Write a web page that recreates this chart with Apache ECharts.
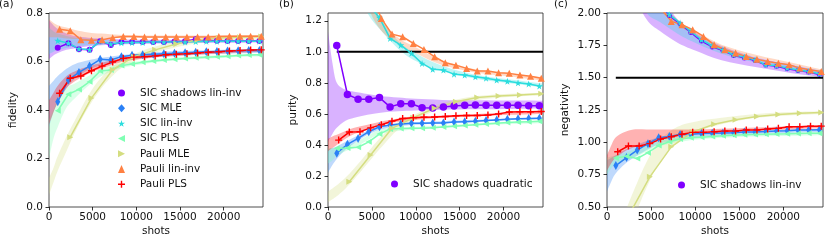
<!DOCTYPE html>
<html><head><meta charset="utf-8">
<script src="https://cdn.jsdelivr.net/npm/echarts@6/dist/echarts.min.js"></script>
<style>html,body{margin:0;padding:0;background:#fff}#c{width:830px;height:249px}</style>
</head><body><div id="c"></div>
<script>
// ---------- x values ----------
const sicShots = [1000, 2215, 3430, 4645, 5860, 7075, 8290, 9505, 10720, 11935, 13150, 14365, 15580, 16795, 18010, 19225, 20440, 21655, 22870, 24085];
const pauliShots = [1215, 2430, 3645, 4860, 6075, 7290, 8505, 9720, 10935, 12150, 13365, 14580, 15795, 17010, 18225, 19440, 20655, 21870, 23085, 24300];
const pauliMleShots = [2430, 4860, 7290, 9720, 12150, 14580, 17010, 19440, 21870, 24300];
const bandShots = [0, 500, 1000, 2000, 3000, 4500, 6000, 8000, 10000, 13000, 17000, 21000, 24500];
const xTicks = [0, 5000, 10000, 15000, 20000];

// ---------- (a) fidelity ----------
const fidSicShadows = [0.657, 0.675, 0.651, 0.648, 0.684, 0.668, 0.680, 0.680, 0.680, 0.680, 0.680, 0.682, 0.684, 0.692, 0.688, 0.686, 0.685, 0.685, 0.685, 0.685];
const fidSicMle = [0.434, 0.524, 0.555, 0.581, 0.609, 0.606, 0.620, 0.626, 0.628, 0.630, 0.632, 0.634, 0.636, 0.638, 0.640, 0.641, 0.643, 0.644, 0.645, 0.645];
const fidSicLinInv = [0.686, 0.676, 0.652, 0.649, 0.683, 0.672, 0.677, 0.678, 0.678, 0.680, 0.680, 0.680, 0.680, 0.682, 0.683, 0.683, 0.684, 0.684, 0.684, 0.684];
const fidSicPls = [0.397, 0.465, 0.485, 0.517, 0.561, 0.565, 0.583, 0.590, 0.597, 0.602, 0.606, 0.609, 0.612, 0.615, 0.618, 0.620, 0.622, 0.625, 0.627, 0.628];
const fidPauliMle = [0.288, 0.449, 0.566, 0.620, 0.648, 0.672, 0.690, 0.697, 0.700, 0.703];
const fidPauliLinInv = [0.733, 0.727, 0.690, 0.688, 0.690, 0.698, 0.703, 0.703, 0.701, 0.701, 0.701, 0.701, 0.701, 0.701, 0.701, 0.703, 0.704, 0.704, 0.704, 0.704];
const fidPauliPls = [0.469, 0.531, 0.540, 0.562, 0.581, 0.598, 0.613, 0.618, 0.620, 0.623, 0.628, 0.630, 0.632, 0.635, 0.638, 0.640, 0.643, 0.645, 0.647, 0.648];
// bands (lower / upper) on bandShots
const fidBandSicShadowsLo = [0.61, 0.625, 0.635, 0.648, 0.655, 0.663, 0.667, 0.670, 0.672, 0.674, 0.676, 0.677, 0.678];
const fidBandSicShadowsHi = [0.77, 0.75, 0.735, 0.715, 0.705, 0.698, 0.695, 0.692, 0.690, 0.690, 0.690, 0.690, 0.690];
const fidBandSicMleLo = [0.33, 0.39, 0.43, 0.49, 0.53, 0.565, 0.585, 0.600, 0.610, 0.620, 0.628, 0.633, 0.636];
const fidBandSicMleHi = [0.50, 0.52, 0.54, 0.57, 0.59, 0.605, 0.615, 0.625, 0.632, 0.640, 0.645, 0.650, 0.652];
const fidBandSicLinInvLo = [0.63, 0.64, 0.648, 0.656, 0.662, 0.667, 0.670, 0.672, 0.674, 0.676, 0.678, 0.679, 0.680];
const fidBandSicLinInvHi = [0.74, 0.725, 0.715, 0.705, 0.698, 0.693, 0.690, 0.688, 0.687, 0.687, 0.687, 0.688, 0.688];
const fidBandSicPlsLo = [0.20, 0.28, 0.33, 0.41, 0.45, 0.50, 0.54, 0.57, 0.585, 0.600, 0.610, 0.618, 0.622];
const fidBandSicPlsHi = [0.36, 0.40, 0.44, 0.49, 0.51, 0.54, 0.57, 0.59, 0.600, 0.612, 0.622, 0.628, 0.632];
const fidBandPauliMleLo = [0.05, 0.10, 0.15, 0.23, 0.31, 0.41, 0.49, 0.565, 0.605, 0.645, 0.675, 0.690, 0.695];
const fidBandPauliMleHi = [0.12, 0.16, 0.21, 0.29, 0.36, 0.46, 0.535, 0.600, 0.635, 0.670, 0.695, 0.705, 0.710];
const fidBandPauliLinInvLo = [0.70, 0.70, 0.70, 0.695, 0.693, 0.693, 0.695, 0.697, 0.698, 0.698, 0.699, 0.700, 0.700];
const fidBandPauliLinInvHi = [0.775, 0.76, 0.75, 0.74, 0.73, 0.72, 0.715, 0.710, 0.708, 0.707, 0.707, 0.708, 0.708];
const fidBandPauliPlsLo = [0.34, 0.39, 0.43, 0.49, 0.52, 0.55, 0.57, 0.595, 0.608, 0.620, 0.628, 0.635, 0.640];
const fidBandPauliPlsHi = [0.44, 0.47, 0.50, 0.54, 0.56, 0.58, 0.595, 0.610, 0.622, 0.632, 0.640, 0.647, 0.652];

// ---------- (b) purity ----------
const purSicShadowsQuad = [1.04, 0.725, 0.695, 0.695, 0.705, 0.645, 0.665, 0.665, 0.640, 0.638, 0.645, 0.650, 0.655, 0.658, 0.656, 0.655, 0.655, 0.655, 0.653, 0.652];
const purSicMle = [0.346, 0.404, 0.442, 0.485, 0.517, 0.528, 0.535, 0.539, 0.540, 0.541, 0.542, 0.548, 0.550, 0.552, 0.557, 0.561, 0.565, 0.568, 0.570, 0.572];
const purSicLinInv = [2.5, 1.75, 1.45, 1.30, 1.22, 1.086, 1.043, 0.990, 0.925, 0.887, 0.882, 0.856, 0.850, 0.839, 0.830, 0.818, 0.810, 0.800, 0.793, 0.779];
const purSicPls = [0.378, 0.380, 0.385, 0.420, 0.470, 0.503, 0.505, 0.507, 0.507, 0.510, 0.515, 0.520, 0.525, 0.530, 0.535, 0.540, 0.545, 0.548, 0.550, 0.552];
const purPauliMle = [0.163, 0.335, 0.507, 0.575, 0.637, 0.678, 0.706, 0.716, 0.722, 0.730];
const purPauliLinInv = [2.6, 1.85, 1.55, 1.39, 1.215, 1.114, 1.097, 1.054, 1.015, 0.968, 0.929, 0.914, 0.893, 0.876, 0.876, 0.865, 0.861, 0.850, 0.843, 0.829];
const purPauliPls = [0.431, 0.483, 0.485, 0.510, 0.530, 0.553, 0.570, 0.575, 0.578, 0.580, 0.583, 0.588, 0.590, 0.590, 0.592, 0.600, 0.612, 0.614, 0.614, 0.615];
const purTrueShots = [1000, 24500];
const purTrue = [1.0, 1.0];
const purBandSicShadowsLo = [0.42, 0.47, 0.51, 0.555, 0.575, 0.595, 0.608, 0.617, 0.622, 0.627, 0.630, 0.632, 0.634];
const purBandSicShadowsHi = [1.13, 0.93, 0.80, 0.755, 0.742, 0.728, 0.715, 0.705, 0.697, 0.690, 0.688, 0.686, 0.685];
const purBandSicMleLo = [0.22, 0.27, 0.31, 0.37, 0.41, 0.465, 0.50, 0.52, 0.53, 0.540, 0.550, 0.560, 0.565];
const purBandSicMleHi = [0.37, 0.38, 0.39, 0.42, 0.45, 0.49, 0.52, 0.54, 0.545, 0.553, 0.562, 0.570, 0.577];
const purBandSicLinInvLo = [3.0, 3.0, 2.4, 1.7, 1.45, 1.25, 1.14, 1.02, 0.94, 0.875, 0.825, 0.795, 0.770];
const purBandSicLinInvHi = [3.5, 3.5, 2.8, 2.0, 1.65, 1.38, 1.22, 1.07, 0.99, 0.910, 0.850, 0.820, 0.795];
const purBandSicPlsLo = [0.28, 0.30, 0.33, 0.36, 0.38, 0.43, 0.47, 0.49, 0.50, 0.510, 0.525, 0.535, 0.540];
const purBandSicPlsHi = [0.38, 0.38, 0.385, 0.395, 0.41, 0.46, 0.50, 0.51, 0.515, 0.525, 0.540, 0.550, 0.555];
const purBandPauliMleLo = [0.03, 0.05, 0.07, 0.12, 0.18, 0.28, 0.38, 0.50, 0.56, 0.64, 0.69, 0.710, 0.720];
const purBandPauliMleHi = [0.10, 0.12, 0.14, 0.19, 0.25, 0.35, 0.45, 0.55, 0.60, 0.67, 0.715, 0.730, 0.735];
const purBandPauliLinInvLo = [4.0, 4.0, 3.0, 2.0, 1.6, 1.3, 1.14, 1.05, 0.99, 0.915, 0.865, 0.840, 0.815];
const purBandPauliLinInvHi = [5.0, 5.0, 3.5, 2.3, 1.8, 1.42, 1.21, 1.09, 1.03, 0.945, 0.885, 0.860, 0.835];
const purBandPauliPlsLo = [0.36, 0.38, 0.40, 0.44, 0.47, 0.50, 0.525, 0.55, 0.562, 0.575, 0.585, 0.595, 0.600];
const purBandPauliPlsHi = [0.44, 0.455, 0.465, 0.49, 0.51, 0.53, 0.55, 0.57, 0.58, 0.590, 0.600, 0.610, 0.615];

// ---------- (c) negativity ----------
const negSicShadows = [4.5, 3.25, 2.62, 2.3, 2.09, 1.98, 1.915, 1.85, 1.783, 1.738, 1.71, 1.672, 1.653, 1.632, 1.597, 1.588, 1.568, 1.555, 1.543, 1.525];
const negSicMle = [0.820, 0.882, 0.940, 0.990, 1.035, 1.045, 1.060, 1.062, 1.068, 1.070, 1.072, 1.075, 1.080, 1.080, 1.083, 1.088, 1.090, 1.095, 1.095, 1.098];
const negSicLinInv = [4.6, 3.3, 2.65, 2.32, 2.10, 1.987, 1.923, 1.858, 1.793, 1.747, 1.716, 1.677, 1.659, 1.638, 1.600, 1.593, 1.574, 1.560, 1.548, 1.530];
const negSicPls = [0.878, 0.893, 0.875, 0.920, 0.975, 1.004, 1.025, 1.035, 1.040, 1.045, 1.050, 1.055, 1.058, 1.060, 1.062, 1.065, 1.066, 1.068, 1.070, 1.070];
const negPauliMle = [0.43, 0.733, 0.965, 1.080, 1.140, 1.175, 1.200, 1.215, 1.225, 1.230];
const negPauliLinInv = [3.5, 2.8, 2.4, 2.2, 2.04, 1.935, 1.910, 1.871, 1.819, 1.754, 1.716, 1.690, 1.664, 1.643, 1.625, 1.612, 1.600, 1.574, 1.560, 1.548];
const negPauliPls = [0.927, 0.972, 0.972, 0.990, 1.025, 1.043, 1.062, 1.077, 1.077, 1.082, 1.087, 1.087, 1.095, 1.095, 1.103, 1.108, 1.120, 1.120, 1.125, 1.125];
const bipartitionShots = [1000, 24500];
const bipartition = [1.5, 1.5];
const negBandSicShadowsLo = [3.0, 3.0, 2.8, 2.4, 2.15, 1.95, 1.86, 1.77, 1.71, 1.635, 1.580, 1.535, 1.505];
const negBandSicShadowsHi = [5.0, 5.0, 4.0, 3.0, 2.6, 2.3, 2.15, 1.95, 1.85, 1.745, 1.655, 1.600, 1.550];
const negBandSicMleLo = [0.62, 0.70, 0.76, 0.83, 0.88, 0.94, 0.99, 1.02, 1.04, 1.055, 1.065, 1.075, 1.080];
const negBandSicMleHi = [0.86, 0.88, 0.90, 0.94, 0.97, 1.01, 1.04, 1.06, 1.07, 1.080, 1.090, 1.100, 1.105];
const negBandSicLinInvLo = [3.0, 3.0, 2.9, 2.5, 2.2, 2.0, 1.93, 1.84, 1.77, 1.685, 1.615, 1.565, 1.528];
const negBandSicLinInvHi = [5.0, 5.0, 4.0, 3.0, 2.6, 2.25, 2.1, 1.94, 1.84, 1.735, 1.650, 1.595, 1.552];
const negBandSicPlsLo = [0.75, 0.80, 0.83, 0.86, 0.88, 0.93, 0.97, 1.00, 1.02, 1.035, 1.045, 1.050, 1.055];
const negBandSicPlsHi = [0.88, 0.89, 0.90, 0.92, 0.94, 0.98, 1.01, 1.04, 1.05, 1.060, 1.070, 1.075, 1.080];
const negBandPauliMleLo = [0.05, 0.08, 0.10, 0.20, 0.40, 0.65, 0.85, 1.00, 1.08, 1.14, 1.19, 1.210, 1.220];
const negBandPauliMleHi = [0.10, 0.15, 0.25, 0.45, 0.62, 0.85, 1.02, 1.12, 1.16, 1.19, 1.22, 1.235, 1.240];
const negBandPauliLinInvLo = [5.0, 5.0, 4.0, 3.0, 2.5, 2.2, 2.02, 1.91, 1.83, 1.730, 1.655, 1.600, 1.550];
const negBandPauliLinInvHi = [6.0, 6.0, 5.0, 3.5, 2.8, 2.35, 2.1, 1.95, 1.86, 1.755, 1.675, 1.615, 1.560];
const negBandPauliPlsLo = [0.78, 0.84, 0.88, 0.93, 0.96, 0.99, 1.02, 1.045, 1.06, 1.075, 1.090, 1.100, 1.110];
const negBandPauliPlsHi = [0.90, 0.98, 1.04, 1.08, 1.10, 1.10, 1.10, 1.10, 1.10, 1.105, 1.115, 1.125, 1.130];

// ---------- styling ----------
const FONT = 'DejaVu Sans';
const TXT = '#111';
const C = {purple:'#8000ff', blue:'#2a80f6', cyan:'#2addde', green:'#80ffb4', olive:'#d4dd80', orange:'#ff8042', red:'#ff0000'};
const SYM = {
  circle:'circle',
  diamond:'diamond',
  star:'path://M50,0L61,35L98,35L68,57L79,91L50,70L21,91L32,57L2,35L39,35Z',
  left:'path://M0,5L10,0L10,10Z',
  right:'path://M0,0L10,5L0,10Z',
  up:'triangle',
  plus:'path://M4,0H6V4H10V6H6V10H4V6H0V4H4Z'
};
const NAMES = ['SIC shadows lin-inv','SIC MLE','SIC lin-inv','SIC PLS','Pauli MLE','Pauli lin-inv','Pauli PLS'];

function pairs(xs, ys){ return xs.map((x,i)=>[x, ys[i]]); }

// smooth (Catmull-Rom -> cubic Bezier) path through pixel points; rendering only
function curve(pts){
  let d = '';
  for (let i = 0; i < pts.length - 1; i++) {
    const p0 = pts[Math.max(i-1,0)], p1 = pts[i], p2 = pts[i+1], p3 = pts[Math.min(i+2, pts.length-1)];
    const c1 = [p1[0] + (p2[0]-p0[0])/6, p1[1] + (p2[1]-p0[1])/6];
    const c2 = [p2[0] - (p3[0]-p1[0])/6, p2[1] - (p3[1]-p1[1])/6];
    d += ' C' + c1[0] + ',' + c1[1] + ' ' + c2[0] + ',' + c2[1] + ' ' + p2[0] + ',' + p2[1];
  }
  return d;
}
function band(g, color, lo, hi){
  return {type:'custom', xAxisIndex:g, yAxisIndex:g, silent:true, z:1,
    data: bandShots.map((x,i)=>[x, lo[i], hi[i]]),
    encode:{x:0, y:[1,2]},
    renderItem:function(params, api){
      if (params.dataIndex !== 0) return null;
      const up = bandShots.map((x,i)=>api.coord([x, hi[i]]));
      const dn = bandShots.map((x,i)=>api.coord([x, lo[i]])).reverse();
      const d = 'M' + up[0][0] + ',' + up[0][1] + curve(up) + ' L' + dn[0][0] + ',' + dn[0][1] + curve(dn) + ' Z';
      const cs = params.coordSys;
      return {type:'path', shape:{pathData:d}, style:{fill:color, opacity:0.3},
        clipPath:{type:'rect', shape:{x:cs.x, y:cs.y, width:cs.width, height:cs.height}}};
    }};
}
function ser(g, name, xs, ys, color, symbol, size){
  return {type:'line', name:name, xAxisIndex:g, yAxisIndex:g, data:pairs(xs,ys), symbol:symbol, symbolSize:size,
    showSymbol:true, showAllSymbol:true, color:color, lineStyle:{width:1.5, color:color}, itemStyle:{color:color, borderWidth:0}, z:3};
}
function panelSeries(g, d){
  const cols = [C.purple, C.blue, C.cyan, C.green, C.olive, C.orange, C.red];
  let s = d.bands.map((b,i)=>band(g, cols[i], b[0], b[1]));
  s.push(ser(g, d.firstName, sicShots, d.v[0], C.purple, SYM.circle, d.circle));
  s.push(ser(g, NAMES[1], sicShots, d.v[1], C.blue, SYM.diamond, [5,9]));
  s.push(ser(g, NAMES[2], sicShots, d.v[2], C.cyan, SYM.star, 7));
  s.push(ser(g, NAMES[3], sicShots, d.v[3], C.green, SYM.left, 6));
  s.push(ser(g, NAMES[4], pauliMleShots, d.v[4], C.olive, SYM.right, 6));
  s.push(ser(g, NAMES[5], pauliShots, d.v[5], C.orange, SYM.up, 7));
  s.push(ser(g, NAMES[6], pauliShots, d.v[6], C.red, SYM.plus, 7));
  return s;
}

let series = [];
series = series.concat(panelSeries(0, {firstName:NAMES[0], circle:6,
  v:[fidSicShadows, fidSicMle, fidSicLinInv, fidSicPls, fidPauliMle, fidPauliLinInv, fidPauliPls],
  bands:[[fidBandSicShadowsLo,fidBandSicShadowsHi],[fidBandSicMleLo,fidBandSicMleHi],[fidBandSicLinInvLo,fidBandSicLinInvHi],[fidBandSicPlsLo,fidBandSicPlsHi],[fidBandPauliMleLo,fidBandPauliMleHi],[fidBandPauliLinInvLo,fidBandPauliLinInvHi],[fidBandPauliPlsLo,fidBandPauliPlsHi]]}));
series.push({type:'line', name:'true purity', xAxisIndex:1, yAxisIndex:1, data:pairs(purTrueShots, purTrue), symbol:'none', lineStyle:{width:2, color:'#000'}, z:2, silent:true});
series = series.concat(panelSeries(1, {firstName:'SIC shadows quadratic', circle:7.5,
  v:[purSicShadowsQuad, purSicMle, purSicLinInv, purSicPls, purPauliMle, purPauliLinInv, purPauliPls],
  bands:[[purBandSicShadowsLo,purBandSicShadowsHi],[purBandSicMleLo,purBandSicMleHi],[purBandSicLinInvLo,purBandSicLinInvHi],[purBandSicPlsLo,purBandSicPlsHi],[purBandPauliMleLo,purBandPauliMleHi],[purBandPauliLinInvLo,purBandPauliLinInvHi],[purBandPauliPlsLo,purBandPauliPlsHi]]}));
series.push({type:'line', name:'bipartition', xAxisIndex:2, yAxisIndex:2, symbol:'none', lineStyle:{width:2, color:'#000'}, z:2, silent:true,
  data: pairs(bipartitionShots, bipartition).map((p,i)=> i===0 ? {value:p, label:{show:true, formatter:'bipartition (2,3)-qubits', position:'top', align:'left', offset:[-6,-2], fontFamily:FONT, fontSize:10.5, color:TXT}} : p)});
series = series.concat(panelSeries(2, {firstName:NAMES[0], circle:5,
  v:[negSicShadows, negSicMle, negSicLinInv, negSicPls, negPauliMle, negPauliLinInv, negPauliPls],
  bands:[[negBandSicShadowsLo,negBandSicShadowsHi],[negBandSicMleLo,negBandSicMleHi],[negBandSicLinInvLo,negBandSicLinInvHi],[negBandSicPlsLo,negBandSicPlsHi],[negBandPauliMleLo,negBandPauliMleHi],[negBandPauliLinInvLo,negBandPauliLinInvHi],[negBandPauliPlsLo,negBandPauliPlsHi]]}));

function xAxis(g){
  return {type:'value', gridIndex:g, min:0, max:24500, name:'shots', nameLocation:'middle', nameGap:19, nameMoveOverlap:false,
    nameTextStyle:{fontFamily:FONT, fontSize:10.5, color:TXT},
    axisLine:{show:false}, splitLine:{show:false},
    axisTick:{show:true, length:3.5, inside:false, lineStyle:{color:'#000', width:0.8}, customValues:xTicks},
    axisLabel:{customValues:xTicks, margin:5, fontFamily:FONT, fontSize:10.5, color:TXT, formatter:v=>String(Math.round(v))}};
}
function yAxis(g, name, min, max, ticks, dec, gap){
  return {type:'value', gridIndex:g, min:min, max:max, name:name, nameLocation:'middle', nameGap:gap, nameMoveOverlap:false,
    nameTextStyle:{fontFamily:FONT, fontSize:10.5, color:TXT},
    axisLine:{show:false}, splitLine:{show:false},
    axisTick:{show:true, length:3.5, lineStyle:{color:'#000', width:0.8}, customValues:ticks},
    axisLabel:{customValues:ticks, margin:6, fontFamily:FONT, fontSize:10.5, color:TXT, formatter:v=>v.toFixed(dec)}};
}
const gridBase = {show:true, borderColor:'#222', borderWidth:0.8, backgroundColor:'transparent', top:13, height:194};
const legendText = {fontFamily:FONT, fontSize:10.5, color:TXT, lineHeight:12, padding:[0,0,0,10]};

const option = {
  animation:false,
  backgroundColor:'#fff',
  title:[
    {text:'(a)', left:-1, top:-1, padding:0, textStyle:{fontFamily:FONT, fontSize:10.5, fontWeight:'normal', color:TXT}},
    {text:'(b)', left:279, top:-1, padding:0, textStyle:{fontFamily:FONT, fontSize:10.5, fontWeight:'normal', color:TXT}},
    {text:'(c)', left:554, top:-1, padding:0, textStyle:{fontFamily:FONT, fontSize:10.5, fontWeight:'normal', color:TXT}}
  ],
  grid:[
    Object.assign({left:49, width:214}, gridBase),
    Object.assign({left:328, width:215}, gridBase),
    Object.assign({left:607, width:216}, gridBase)
  ],
  xAxis:[xAxis(0), xAxis(1), xAxis(2)],
  yAxis:[
    yAxis(0, 'fidelity', 0, 0.8, [0,0.2,0.4,0.6,0.8], 1, 30),
    yAxis(1, 'purity', 0, 1.25, [0,0.2,0.4,0.6,0.8,1.0,1.2], 1, 29),
    yAxis(2, 'negativity', 0.5, 2.0, [0.5,0.75,1.0,1.25,1.5,1.75,2.0], 2, 36)
  ],
  legend:[
    {orient:'vertical', left:118, top:87, padding:0, itemGap:3.2, itemWidth:7, itemHeight:8, selectedMode:false, textStyle:legendText,
     data:[{name:NAMES[0], icon:SYM.circle},{name:NAMES[1], icon:SYM.diamond},{name:NAMES[2], icon:SYM.star},{name:NAMES[3], icon:SYM.left},{name:NAMES[4], icon:SYM.right},{name:NAMES[5], icon:SYM.up},{name:NAMES[6], icon:SYM.plus}]},
    {orient:'vertical', left:391, top:178, padding:0, itemWidth:7, itemHeight:7, selectedMode:false, textStyle:legendText,
     data:[{name:'SIC shadows quadratic', icon:'circle'}]},
    {orient:'vertical', left:678, top:179, padding:0, itemWidth:7, itemHeight:7, selectedMode:false, textStyle:legendText,
     data:[{name:NAMES[0], icon:'circle'}]}
  ],
  series:series
};
const chart = echarts.init(document.getElementById('c'), null, {renderer:'canvas'});
chart.setOption(option);
</script></body></html>
